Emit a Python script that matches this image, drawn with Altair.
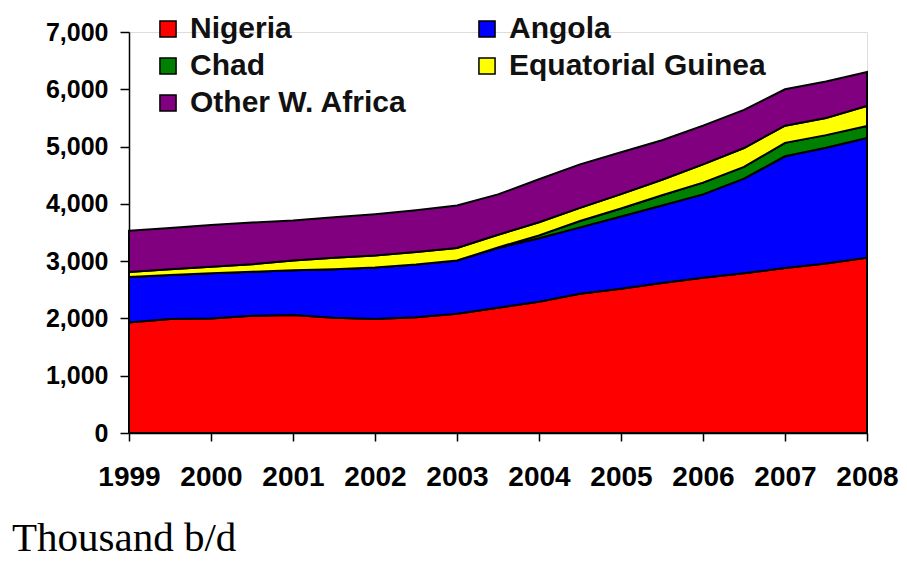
import altair as alt
import pandas as pd

years = [1999.0, 1999.5, 2000.0, 2000.5, 2001.0, 2001.5, 2002.0, 2002.5, 2003.0, 2003.5,
         2004.0, 2004.5, 2005.0, 2005.5, 2006.0, 2006.5, 2007.0, 2007.5, 2008.0]

nigeria = [1930, 1990, 2000, 2045, 2060, 2010, 1990, 2020, 2080, 2185,
           2290, 2430, 2520, 2620, 2710, 2790, 2880, 2960, 3060]
angola = [795, 770, 790, 770, 780, 850, 900, 920, 930, 1045,
          1110, 1160, 1260, 1350, 1455, 1650, 1950, 2020, 2090]
chad = [0, 0, 0, 0, 0, 0, 0, 0, 0, 10,
        50, 110, 140, 180, 205, 205, 235, 220, 210]
eq_guinea = [85, 100, 110, 130, 170, 200, 210, 220, 220, 220,
             230, 230, 250, 270, 320, 330, 300, 300, 350]
other = [720, 720, 730, 730, 700, 705, 720, 730, 740, 705,
         750, 760, 730, 690, 675, 665, 635, 635, 590]

series_names = ["Nigeria", "Angola", "Chad", "Equatorial Guinea", "Other W. Africa"]
series_vals = [nigeria, angola, chad, eq_guinea, other]
series_colors = ["#FF0000", "#0000FF", "#008000", "#FFFF00", "#800080"]
# legend is laid out column by column: left column first, then right column
legend_order = ["Nigeria", "Chad", "Other W. Africa", "Angola", "Equatorial Guinea"]

year_ticks = [1999, 2000, 2001, 2002, 2003, 2004, 2005, 2006, 2007, 2008]
y_ticks = [0, 1000, 2000, 3000, 4000, 5000, 6000, 7000]

rows = []
for i, (name, vals) in enumerate(zip(series_names, series_vals)):
    for yr, v in zip(years, vals):
        rows.append({"year": yr, "value": v, "series": name, "ord": i})
df = pd.DataFrame(rows)

W, H = 738, 401

chart = alt.Chart(df).mark_area(
    stroke="black", strokeWidth=2, interpolate="linear", opacity=1
).encode(
    x=alt.X("year:Q",
            scale=alt.Scale(domain=[1999, 2008], nice=False, zero=False),
            axis=alt.Axis(values=year_ticks, format="d", title=None, grid=False,
                          labelFontSize=28, labelFontWeight="bold", labelColor="black",
                          labelFont="Liberation Sans",
                          tickSize=8, tickColor="black", tickWidth=1.5,
                          domainColor="black", domainWidth=1.5,
                          labelPadding=22, labelFlush=False, labelOverlap=False)),
    y=alt.Y("value:Q", stack="zero",
            scale=alt.Scale(domain=[0, 7000], nice=False),
            axis=alt.Axis(values=y_ticks, format=",.0f", title=None, grid=False,
                          labelFontSize=25, labelFontWeight="bold", labelColor="black",
                          labelFont="Liberation Sans",
                          tickSize=9, tickColor="black", tickWidth=1.5,
                          domainColor="black", domainWidth=1.5,
                          labelPadding=12)),
    color=alt.Color("series:N",
                    scale=alt.Scale(domain=series_names, range=series_colors),
                    sort=series_names,
                    legend=alt.Legend(title=None, orient="none", legendX=24, legendY=-18,
                                      values=legend_order,
                                      columns=2, columnPadding=65, rowPadding=7,
                                      symbolType="square", symbolSize=260,
                                      symbolStrokeColor="black", symbolStrokeWidth=1.5,
                                      symbolOpacity=1,
                                      labelFontSize=30, labelFontWeight="bold",
                                      labelFont="Liberation Sans", labelColor="#111111",
                                      labelOffset=7, labelLimit=400)),
    order=alt.Order("ord:Q"),
).properties(
    width=W, height=H,
    title=alt.TitleParams("Thousand b/d", orient="bottom", anchor="start", frame="group",
                          font="Liberation Serif", fontSize=41, fontWeight="normal",
                          color="black", dx=-117, offset=28),
    autosize=alt.AutoSizeParams(type="none"),
    padding={"left": 121, "top": 24, "right": 32, "bottom": 124},
).configure_view(stroke=None).configure(background="white")

chart.save("out.html", embed_options={"renderer": "svg", "actions": False})
